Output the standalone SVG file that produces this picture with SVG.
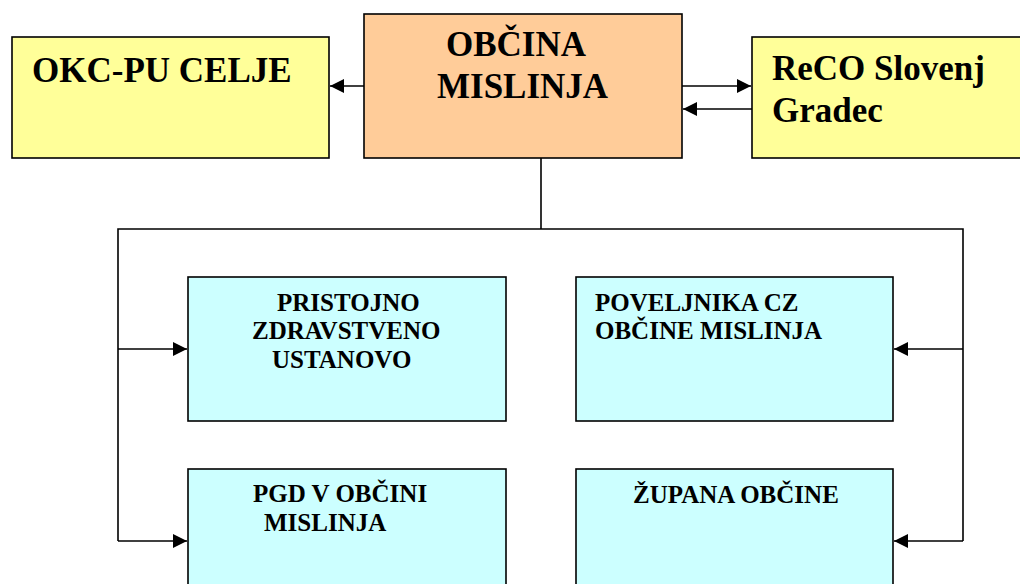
<svg xmlns="http://www.w3.org/2000/svg" width="1020" height="584" viewBox="0 0 1020 584">
<style>
.box{stroke:#000;stroke-width:1.6}
.y{fill:#FFFF99}
.o{fill:#FFCC99}
.c{fill:#CCFFFF}
.big{font-family:"Liberation Serif","Times New Roman",serif;font-weight:bold;font-size:35px;fill:#000}
.sm{font-family:"Liberation Serif","Times New Roman",serif;font-weight:bold;font-size:25px;fill:#000}
.ln{fill:none;stroke:#000;stroke-width:1.6}
</style>
<defs>
<marker id="ah" markerUnits="userSpaceOnUse" markerWidth="15" markerHeight="15" refX="14" refY="7" orient="auto">
<path d="M0,0 L14,7 L0,14 z" fill="#000"/>
</marker>
</defs>
<rect width="1020" height="584" fill="#fff"/>
<g id="connectors">
<line class="ln" x1="364" y1="86" x2="330" y2="86" marker-end="url(#ah)"/>
<line class="ln" x1="682" y1="86" x2="751" y2="86" marker-end="url(#ah)"/>
<line class="ln" x1="752" y1="109" x2="683" y2="109" marker-end="url(#ah)"/>
<polyline class="ln" points="541,158 541,229"/>
<polyline class="ln" points="118,541 118,229 963,229 963,541"/>
<line class="ln" x1="118" y1="349" x2="187" y2="349" marker-end="url(#ah)"/>
<line class="ln" x1="118" y1="541" x2="187" y2="541" marker-end="url(#ah)"/>
<line class="ln" x1="963" y1="349" x2="894" y2="349" marker-end="url(#ah)"/>
<line class="ln" x1="963" y1="541" x2="894" y2="541" marker-end="url(#ah)"/>
</g>
<g id="okc">
<rect class="box y" x="12" y="37" width="317" height="121"/>
<text class="big" x="32" y="82">OKC-PU CELJE</text>
</g>
<g id="obcina">
<rect class="box o" x="364" y="14" width="318" height="144"/>
<text class="big" x="446" y="56">OBČINA</text>
<text class="big" x="437" y="98">MISLINJA</text>
</g>
<g id="reco">
<rect class="box y" x="752" y="37" width="275" height="121"/>
<text class="big" x="772" y="80">ReCO Slovenj</text>
<text class="big" x="772" y="122">Gradec</text>
</g>
<g id="zdravstvo">
<rect class="box c" x="188" y="277" width="318" height="144"/>
<text class="sm" x="277" y="311">PRISTOJNO</text>
<text class="sm" x="252" y="339">ZDRAVSTVENO</text>
<text class="sm" x="272" y="368">USTANOVO</text>
</g>
<g id="poveljnik">
<rect class="box c" x="576" y="277" width="317" height="144"/>
<text class="sm" x="595" y="311">POVELJNIKA CZ</text>
<text class="sm" x="595" y="339">OBČINE MISLINJA</text>
</g>
<g id="pgd">
<rect class="box c" x="188" y="469" width="318" height="140"/>
<text class="sm" x="253" y="502">PGD V OBČINI</text>
<text class="sm" x="264" y="531">MISLINJA</text>
</g>
<g id="zupan">
<rect class="box c" x="576" y="469" width="317" height="140"/>
<text class="sm" x="633" y="503">ŽUPANA OBČINE</text>
</g>
</svg>
